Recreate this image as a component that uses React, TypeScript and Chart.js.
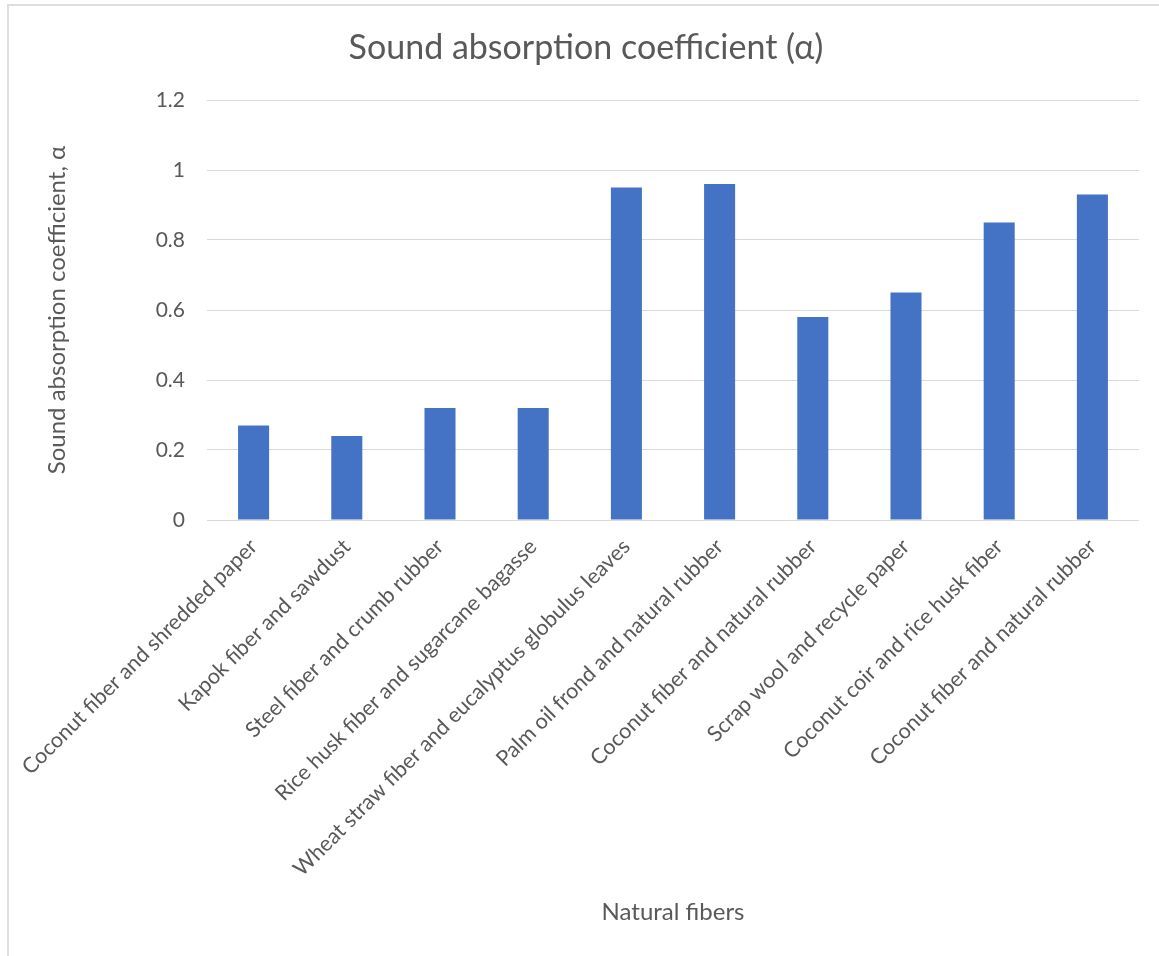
import React, { useEffect, useRef } from "react";
import { Chart, registerables } from "chart.js";

Chart.register(...registerables);

const categories: string[] = [
  "Coconut fiber and shredded paper",
  "Kapok fiber and sawdust",
  "Steel fiber and crumb rubber",
  "Rice husk fiber and sugarcane bagasse",
  "Wheat straw fiber and eucalyptus globulus leaves",
  "Palm oil frond and natural rubber",
  "Coconut fiber and natural rubber",
  "Scrap wool and recycle paper",
  "Coconut coir and rice husk fiber",
  "Coconut fiber and natural rubber",
];

const absorption: number[] = [0.27, 0.24, 0.32, 0.32, 0.95, 0.96, 0.58, 0.65, 0.85, 0.93];

const yTicks: number[] = [0, 0.2, 0.4, 0.6, 0.8, 1, 1.2];

const titleText = "Sound absorption coefficient (α)";
const yTitle = "Sound absorption coefficient, α";
const xTitle = "Natural fibers";

const FONT = "Lato, 'Open Sans', sans-serif";
const TEXT = "#595959";
const GRID = "#d9d9d9";

export default function App() {
  const ref = useRef<HTMLCanvasElement | null>(null);

  useEffect(() => {
    if (!ref.current) return;
    const chart = new Chart(ref.current, {
      type: "bar",
      data: {
        labels: categories,
        datasets: [
          {
            label: "α",
            data: absorption,
            backgroundColor: "#4472C4",
            borderWidth: 0,
            categoryPercentage: 1,
            barPercentage: 0.333,
          },
        ],
      },
      options: {
        responsive: false,
        animation: false,
        layout: { padding: { left: 33, right: 20, top: 0, bottom: 0 } },
        plugins: {
          legend: { display: false },
          tooltip: { enabled: false },
          title: {
            display: true,
            text: titleText,
            color: TEXT,
            font: { family: FONT, size: 34, weight: "normal" },
            padding: { top: 27.6, bottom: 31.6 },
          },
        },
        scales: {
          x: {
            grid: { display: false, drawTicks: false },
            border: { display: false },
            ticks: {
              autoSkip: false,
              minRotation: 45,
              maxRotation: 45,
              color: TEXT,
              padding: 14,
              font: { family: FONT, size: 21.5 },
            },
            title: {
              display: true,
              text: xTitle,
              color: TEXT,
              font: { family: FONT, size: 24 },
              padding: { top: 0, bottom: 29.6 },
            },
            afterFit: (scale: any) => {
              scale.height = 436;
            },
          },
          y: {
            min: 0,
            max: 1.2,
            afterBuildTicks: (scale: any) => {
              scale.ticks = yTicks.map((v) => ({ value: v }));
            },
            grid: { color: GRID, lineWidth: 1, drawTicks: false },
            border: { display: false },
            ticks: {
              color: TEXT,
              padding: 22,
              font: { family: FONT, size: 21 },
              callback: (v: any) => String(Math.round(Number(v) * 10) / 10),
            },
            title: {
              display: true,
              text: yTitle,
              color: TEXT,
              font: { family: FONT, size: 24 },
              padding: { top: 9.6, bottom: 0 },
            },
            afterFit: (scale: any) => {
              scale.width = 174;
            },
          },
        },
      },
    });
    return () => chart.destroy();
  }, []);

  return (
    <div
      style={{
        position: "absolute",
        left: 0,
        top: 0,
        width: 1159,
        height: 956,
        overflow: "hidden",
        background: "#ffffff",
      }}
    >
      <div
        style={{
          position: "absolute",
          left: 7,
          top: 4,
          width: 1200,
          height: 1000,
          border: "2px solid #dedede",
        }}
      />
      <canvas
        ref={ref}
        width={1159}
        height={956}
        style={{ position: "absolute", left: 0, top: 0, width: 1159, height: 956 }}
      />
    </div>
  );
}
